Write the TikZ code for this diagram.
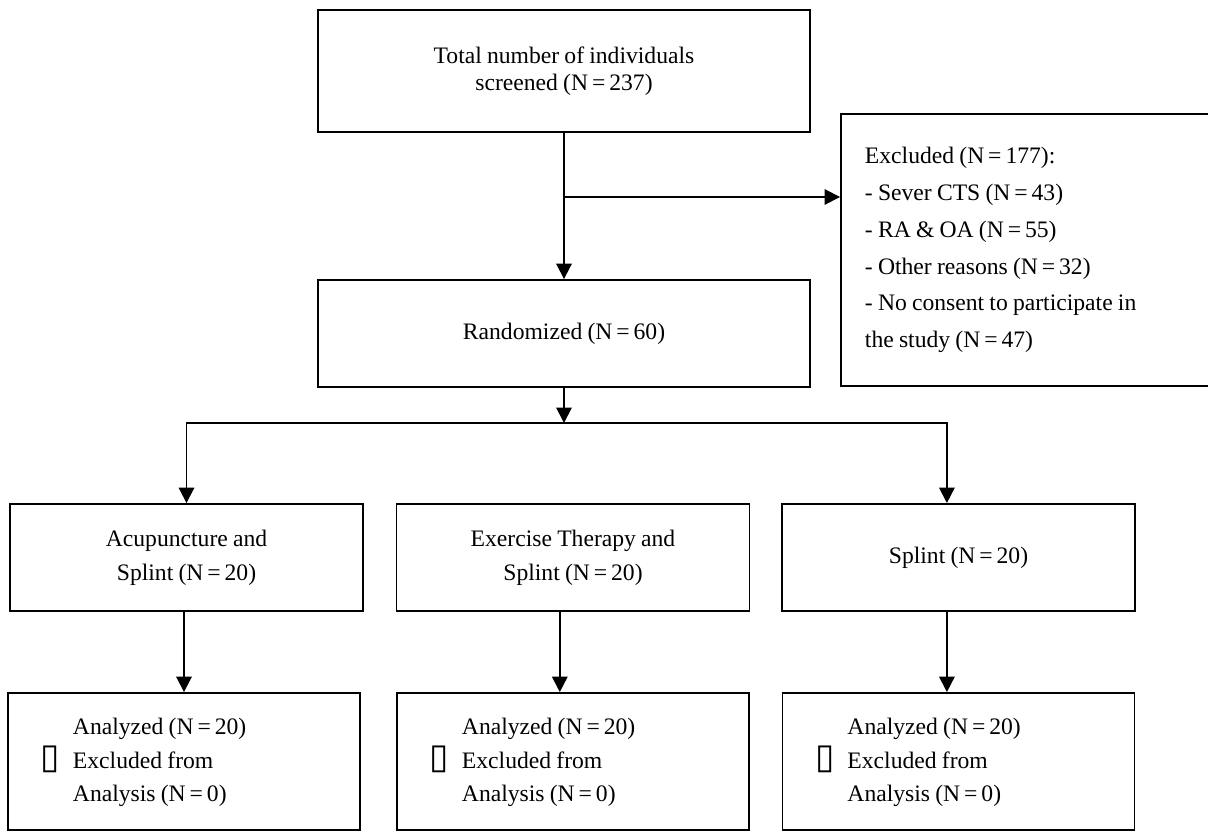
\documentclass[tikz,border=0pt]{standalone}
\usepackage{fontspec}
\setmainfont{Liberation Serif}
\usepackage{tikz}
\usetikzlibrary{arrows.meta,positioning}
\newfontfamily\symfont{DejaVu Sans}
\newcommand{\boxfont}[1]{\fontsize{16.8}{#1}\selectfont}
\newcommand{\analysed}{\begin{tabular}{@{}r@{\hspace{9pt}}l@{}}
		& Analyzed (N\,=\,20)\\
		{\symfont\fontsize{25}{25}\selectfont ▯} & Excluded from\\
		& Analysis (N\,=\,0)
	\end{tabular}}

\begin{document}
\begin{tikzpicture}[x=0.025cm,y=-0.025cm,line width=1.3pt,>={Triangle[width=11pt,length=11pt]},
		box/.style={draw,rectangle,inner sep=0pt,align=center,execute at begin node={\spaceskip=.22em plus .05em\relax}},
		armbox/.style={box,minimum width=8.825cm,minimum height=2.675cm,font=\boxfont{24}},
		endbox/.style={box,minimum width=8.8cm,minimum height=3.425cm,text width=7.15cm,align=left,font=\boxfont{23.7}}]
		\useasboundingbox (0,0) rectangle (1208,832);
		\node[box,minimum width=12.28cm,minimum height=3.05cm,font=\boxfont{19}] (total) at (564,71) {Total number of individuals\\screened (N\,=\,237)};
		\node[box,minimum width=12.28cm,minimum height=2.675cm,font=\boxfont{24}] (random) at (564,333.5) {Randomized (N\,=\,60)};
		\node[box,minimum width=9.725cm,minimum height=6.8cm,text width=8.525cm,align=left,font=\boxfont{26.2}] (excl) at (1035.5,250) {Excluded (N\,=\,177):\\- Sever CTS (N\,=\,43)\\- RA \& OA (N\,=\,55)\\- Other reasons (N\,=\,32)\\- No consent to participate in\\the study (N\,=\,47)};
		\node[armbox] (acu) at (186.5,557.5) {Acupuncture and\\Splint (N\,=\,20)};
		\node[armbox] (exer) at (573,557.5) {Exercise Therapy and\\Splint (N\,=\,20)};
		\node[armbox] (splint) at (958.5,557.5) {Splint (N\,=\,20)};
		\node[endbox] (anaA) at (184,761.5) {\analysed};
		\node[endbox] (anaB) at (573,761.5) {\analysed};
		\node[endbox] (anaC) at (958.5,761.5) {\analysed};
		\coordinate (split) at (564,197);
		\coordinate (fork) at (564,423);
		\path[->]
		(total) edge (random)
		(split) edge (split -| excl.west)
		(random) edge (fork)
		(anaA.north |- acu.south) edge (anaA.north)
		([xshift=-0.33cm]exer.south) edge ([xshift=-0.33cm]anaB.north)
		([xshift=-0.29cm]splint.south) edge ([xshift=-0.29cm]anaC.north)
		;
		\draw[->] (fork) -| (acu.north);
		\draw[->] (fork) -| ([xshift=-0.29cm]splint.north);
	\end{tikzpicture}
\end{document}
